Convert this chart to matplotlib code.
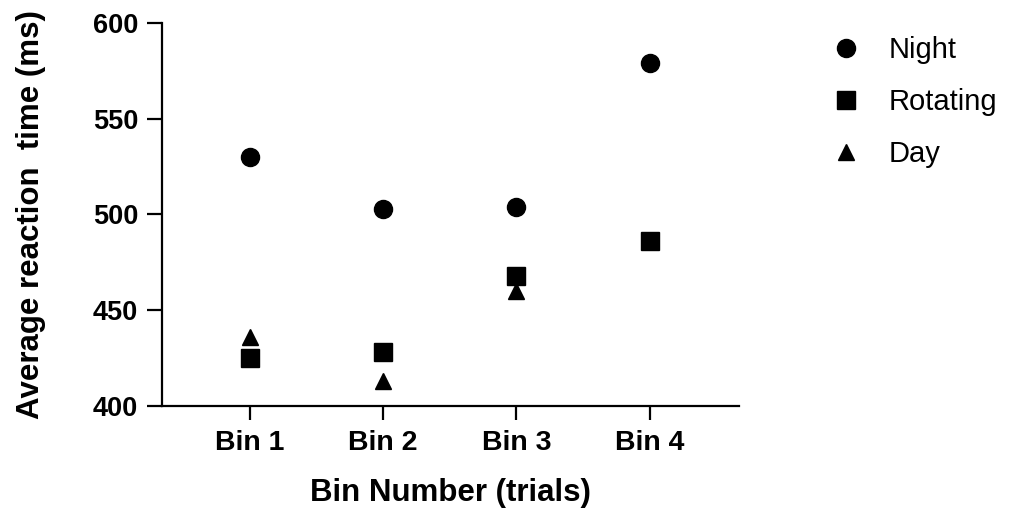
import numpy as np
import matplotlib
matplotlib.use('Agg')
import matplotlib.pyplot as plt

# Data
bins = ['Bin 1', 'Bin 2', 'Bin 3', 'Bin 4']
night = [530, 503, 504, 579]
rotating = [425, 428, 468, 486]
day = [436, 413, 460, np.nan]
yticks = [400, 450, 500, 550, 600]

plt.rcParams['font.family'] = ['Liberation Sans', 'DejaVu Sans']

fig = plt.figure(figsize=(10.11, 5.11), dpi=100)
ax = fig.add_axes([0.160, 0.2055, 0.571, 0.7495])

x = np.arange(1, len(bins) + 1)
ax.plot(x, night, 'o', color='black', markersize=13, label='Night', zorder=3)
ax.plot(x, day, '^', color='black', markersize=12, label='Day', zorder=2)
ax.plot(x, rotating, 's', color='black', markersize=12.5, label='Rotating', zorder=3)

ax.set_xlim(0.34, 4.67)
ax.set_ylim(400, 600)
ax.set_xticks(x)
ax.set_xticklabels(bins, fontsize=20.5, fontweight='bold')
ax.set_yticks(yticks)
ax.set_yticklabels([str(v) for v in yticks], fontsize=19.5, fontweight='bold')

for side in ['top', 'right']:
    ax.spines[side].set_visible(False)
for side in ['left', 'bottom']:
    ax.spines[side].set_linewidth(1.6)
ax.tick_params(axis='y', length=11, width=1.6, pad=6)
ax.tick_params(axis='x', length=10, width=1.6, pad=7)

ax.set_xlabel('Bin Number (trials)', fontsize=22.5, fontweight='bold', labelpad=16)
ax.set_ylabel('Average reaction  time (ms)', fontsize=22.5, fontweight='bold', labelpad=34)

handles, labels = ax.get_legend_handles_labels()
order = [0, 2, 1]
fig.legend([handles[i] for i in order], [labels[i] for i in order],
           loc='upper left', bbox_to_anchor=(0.808, 0.958), frameon=False,
           fontsize=21, handlelength=1.0, handletextpad=0.95, labelspacing=0.82,
           borderpad=0)

fig.savefig('out.png', dpi=100)
